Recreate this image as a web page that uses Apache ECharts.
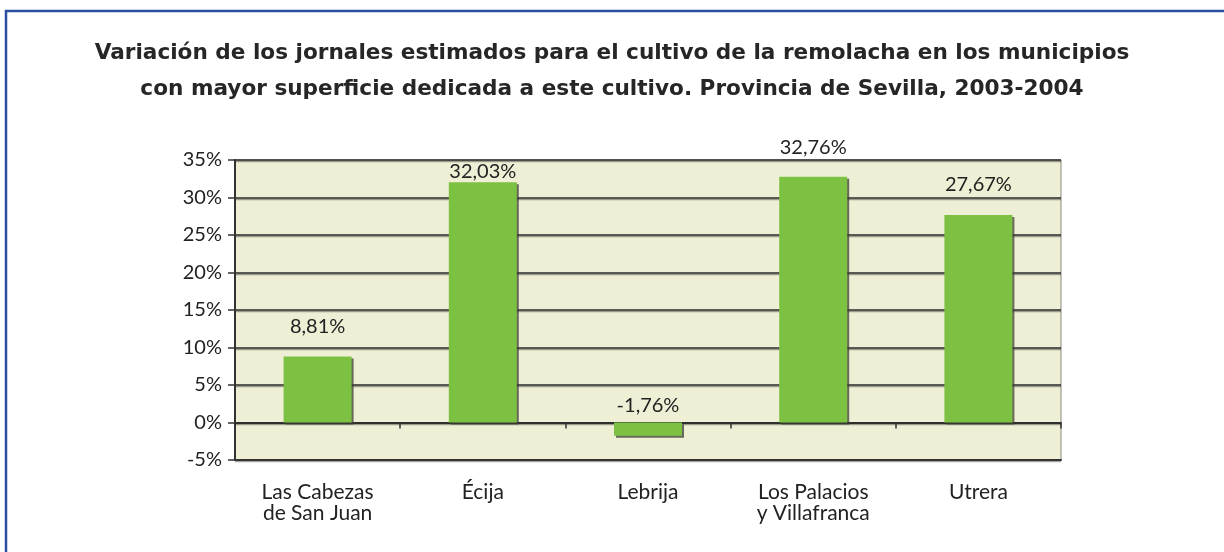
<!DOCTYPE html>
<html><head><meta charset="utf-8">
<script src="https://cdn.jsdelivr.net/npm/echarts@6/dist/echarts.min.js"></script>
<style>html,body{margin:0;padding:0;background:#fff}#c{width:1224px;height:552px}</style>
</head><body><div id="c"></div>
<script>
const categories = ['Las Cabezas\nde San Juan', 'Écija', 'Lebrija', 'Los Palacios\ny Villafranca', 'Utrera'];
const values = [8.81, 32.03, -1.76, 32.76, 27.67];
const labelDistances = [20, 1, 7, 19, 20];
const yTicks = { min: -5, max: 35, interval: 5 };
const titleText = 'Variación de los jornales estimados para el cultivo de la remolacha en los municipios\ncon mayor superficie dedicada a este cultivo. Provincia de Sevilla, 2003-2004';

const labelFont = 'Lato, "Open Sans", sans-serif';
const chart = echarts.init(document.getElementById('c'), null, { renderer: 'canvas' });
chart.setOption({
  animation: false,
  backgroundColor: '#fff',
  title: {
    text: titleText, left: 'center', top: 30,
    textStyle: { fontFamily: '"DejaVu Sans", sans-serif', fontWeight: 'bold', fontSize: 21.6, color: '#262626', lineHeight: 36 }
  },
  graphic: [
    { type: 'line', shape: { x1: 5, y1: 11, x2: 1224, y2: 11 }, style: { stroke: '#2a4ea0', lineWidth: 2.5 } },
    { type: 'line', shape: { x1: 6, y1: 10, x2: 6, y2: 552 }, style: { stroke: '#2a4ea0', lineWidth: 2.5 } }
  ],
  grid: { left: 235, right: 163, top: 160, bottom: 92, show: true, backgroundColor: '#efefd6', borderColor: '#8a8a80', borderWidth: 1 },
  xAxis: [
    {
      type: 'category', data: categories, position: 'bottom',
      axisLine: { onZero: false, lineStyle: { color: '#333', width: 2 } },
      axisTick: { show: false },
      axisLabel: { margin: 22, fontFamily: labelFont, fontSize: 21, color: '#222', lineHeight: 21, interval: 0 }
    },
    {
      type: 'category', data: categories, position: 'bottom',
      axisLine: { onZero: true, lineStyle: { color: '#222', width: 1.5 } },
      axisTick: { show: true, length: 6, inside: false, lineStyle: { color: '#333', width: 1.5 } },
      axisLabel: { show: false }
    }
  ],
  yAxis: {
    type: 'value', min: yTicks.min, max: yTicks.max, interval: yTicks.interval,
    axisLine: { show: true, lineStyle: { color: '#333', width: 2 } },
    axisTick: { show: true, length: 7, lineStyle: { color: '#333', width: 1.5 } },
    axisLabel: { formatter: v => v + '%', fontFamily: labelFont, fontSize: 20, color: '#222', margin: 13 },
    splitLine: { show: true, lineStyle: { color: '#2a2a2a', width: 1.5, shadowColor: 'rgba(0,0,0,0.35)', shadowOffsetY: 1.5 } }
  },
  series: [{
    type: 'bar', xAxisIndex: 0,
    data: values.map((v, i) => ({ value: v, label: { distance: labelDistances[i] } })),
    barWidth: 68,
    itemStyle: { color: '#7dc142', shadowColor: 'rgba(60,60,50,0.75)', shadowOffsetX: 2, shadowOffsetY: 2, shadowBlur: 0 },
    label: {
      show: true, position: 'top',
      formatter: p => String(p.value).replace('.', ',') + '%',
      fontFamily: labelFont, fontSize: 20, color: '#222'
    }
  }]
});
</script></body></html>
